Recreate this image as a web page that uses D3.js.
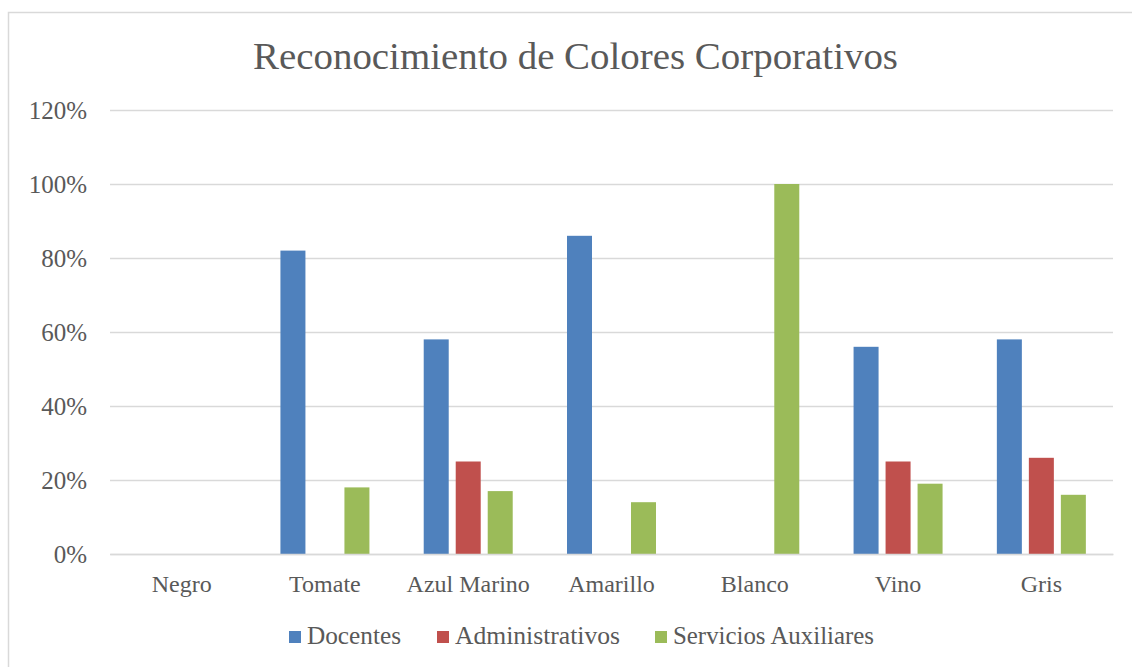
<!DOCTYPE html>
<html>
<head>
<meta charset="utf-8">
<script src="https://cdn.jsdelivr.net/npm/d3@7"></script>
<style>
  html, body { margin: 0; padding: 0; background: #fff; }
  svg { display: block; }
  text { font-family: "Liberation Serif", "DejaVu Serif", serif; fill: #595959; }
</style>
</head>
<body>
<svg id="chart" width="1132" height="667"></svg>
<script>
// Colour recognition survey, share of respondents per group
const categories = ["Negro", "Tomate", "Azul Marino", "Amarillo", "Blanco", "Vino", "Gris"];
const seriesNames = ["Docentes", "Administrativos", "Servicios Auxiliares"];
const docentes = [0, 0.82, 0.58, 0.86, 0, 0.56, 0.58];
const administrativos = [0, 0, 0.25, 0, 0, 0.25, 0.26];
const serviciosAuxiliares = [0, 0.18, 0.17, 0.14, 1.00, 0.19, 0.16];
const yTicks = [0, 0.2, 0.4, 0.6, 0.8, 1.0, 1.2];
const seriesColors = ["#4F81BD", "#C0504D", "#9BBB59"];
const titleText = "Reconocimiento de Colores Corporativos";

const seriesValues = [docentes, administrativos, serviciosAuxiliares];
const rows = categories.map((c, i) => ({
  category: c,
  values: seriesNames.map((s, j) => ({ series: s, value: seriesValues[j][i] }))
}));

const svg = d3.select("#chart");

// chart frame
svg.append("rect")
  .attr("x", 8.5).attr("y", 12.5)
  .attr("width", 1200).attr("height", 700)
  .attr("fill", "#fff")
  .attr("stroke", "#d9d9d9").attr("stroke-width", 1.5);

const plot = { left: 110, right: 1113, top: 110, bottom: 554 };

const x0 = d3.scaleBand().domain(categories).range([plot.left, plot.right]).padding(0);
const x1 = d3.scaleBand().domain(seriesNames).range([0, 89]).paddingInner(7 / 32).paddingOuter(0);
const y = d3.scaleLinear().domain([0, 1.2]).range([plot.bottom, plot.top]);
const color = d3.scaleOrdinal().domain(seriesNames).range(seriesColors);

// gridlines + y labels
const yAxis = d3.axisLeft(y)
  .tickValues(yTicks)
  .tickFormat(d3.format(".0%"))
  .tickSize(-(plot.right - plot.left))
  .tickPadding(23);

const gy = svg.append("g")
  .attr("transform", `translate(${plot.left},0)`)
  .call(yAxis);
gy.select(".domain").remove();
gy.selectAll(".tick line").attr("stroke", "#d9d9d9").attr("stroke-width", 1.5);
gy.selectAll(".tick text")
  .attr("font-size", 25)
  .attr("dy", "0.33em")
  .style("font-family", "'Liberation Serif', serif")
  .attr("fill", "#595959");

// bars
const groups = svg.append("g").selectAll("g")
  .data(rows)
  .join("g")
  .attr("transform", d => `translate(${x0(d.category) + x0.bandwidth() / 2 - 44.5},0)`);

groups.selectAll("rect")
  .data(d => d.values.filter(v => v.value > 0))
  .join("rect")
  .attr("x", d => x1(d.series))
  .attr("width", x1.bandwidth())
  .attr("y", d => y(d.value))
  .attr("height", d => y(0) - y(d.value))
  .attr("fill", d => color(d.series));

// category axis
const xAxis = d3.axisBottom(x0).tickSize(0).tickPadding(21);
const gx = svg.append("g")
  .attr("transform", `translate(0,${plot.bottom})`)
  .call(xAxis);
gx.select(".domain").attr("stroke", "#d9d9d9").attr("stroke-width", 1.5);
gx.selectAll(".tick text")
  .attr("font-size", 24)
  .style("font-family", "'Liberation Serif', serif")
  .attr("fill", "#595959");

// title
svg.append("text")
  .attr("x", 575.5).attr("y", 69)
  .attr("text-anchor", "middle")
  .attr("font-size", 38)
  .attr("textLength", 645)
  .attr("lengthAdjust", "spacingAndGlyphs")
  .text(titleText);

// legend
const legendItems = [
  { name: seriesNames[0], x: 289, w: 94 },
  { name: seriesNames[1], x: 437, w: 165 },
  { name: seriesNames[2], x: 655, w: 201 }
];
const lg = svg.append("g").selectAll("g")
  .data(legendItems)
  .join("g")
  .attr("transform", d => `translate(${d.x},0)`);
lg.append("rect")
  .attr("x", 0).attr("y", 631)
  .attr("width", 12).attr("height", 12)
  .attr("fill", d => color(d.name));
lg.append("text")
  .attr("x", 18).attr("y", 644)
  .attr("font-size", 25)
  .attr("textLength", d => d.w)
  .attr("lengthAdjust", "spacingAndGlyphs")
  .text(d => d.name);
</script>
</body>
</html>
